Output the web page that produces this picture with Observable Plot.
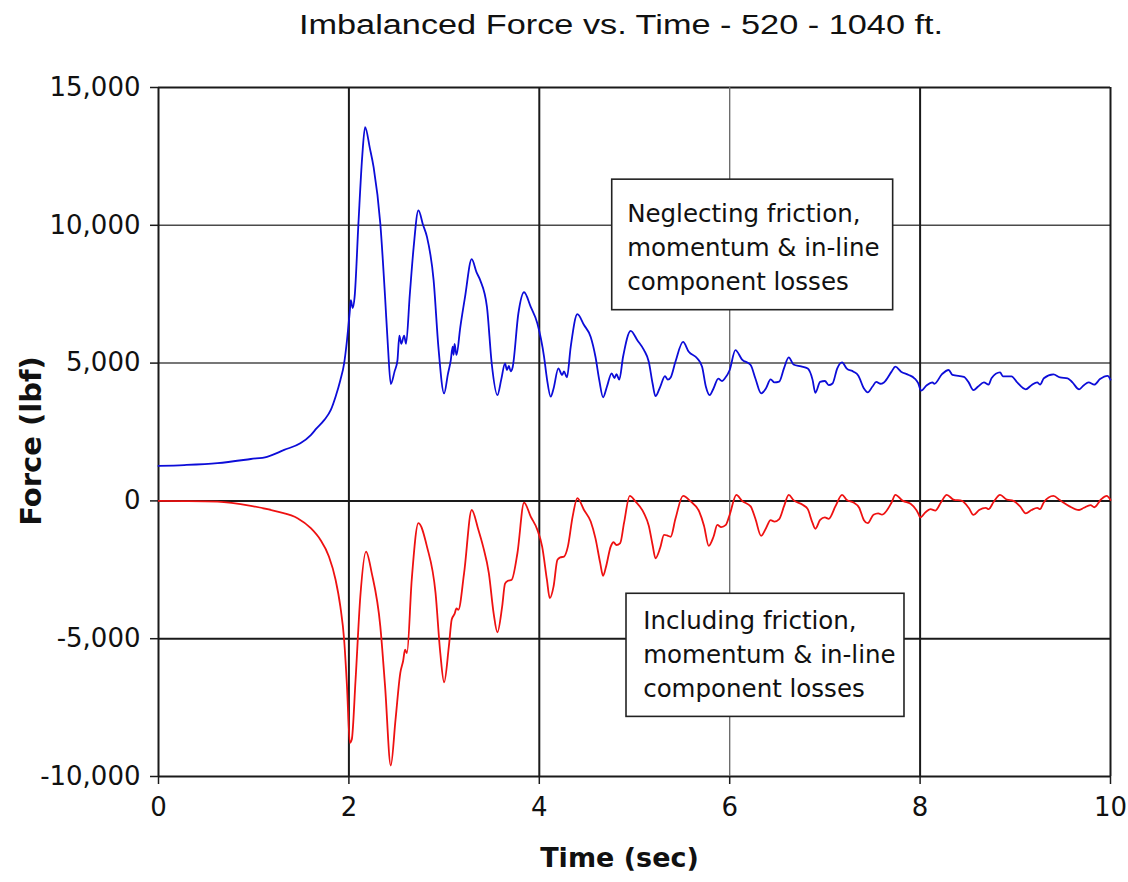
<!DOCTYPE html>
<html>
<head>
<meta charset="utf-8">
<script src="https://cdn.jsdelivr.net/npm/d3@7"></script>
<script src="https://cdn.jsdelivr.net/npm/@observablehq/plot@0.6"></script>
<style>
  html, body { margin: 0; padding: 0; background: #fff; }
  #title { position: relative; height: 60px; width: 1128px; font-family: "Liberation Sans", Arial, sans-serif; font-size: 27px; color: #111; }
  #title span { position: absolute; left: 621px; top: 9.5px; line-height: 31px; white-space: nowrap; transform: translateX(-50%) scaleX(1.27); }
  svg { display: block; }
</style>
</head>
<body>
<div id="title"><span>Imbalanced Force vs. Time - 520 - 1040 ft.</span></div>
<div id="chart"></div>
<script>
// ---- Data ----
const xTicks = [0, 2, 4, 6, 8, 10];
const xTickLabels = ["0", "2", "4", "6", "8", "10"];
const yTicks = [-10000, -5000, 0, 5000, 10000, 15000];
const yTickLabels = ["-10,000", "-5,000", "0", "5,000", "10,000", "15,000"];
const xLabel = "Time (sec)";
const yLabel = "Force (lbf)";

// Neglecting friction, momentum & in-line component losses (blue)
const blueT = [0.00,0.27,0.62,0.97,1.14,1.32,1.49,1.60,1.66,1.74,1.81,1.86,1.91,1.95,1.98,2.01,2.02,2.04,2.06,2.10,2.14,2.17,2.22,2.26,2.33,2.38,2.41,2.44,2.48,2.51,2.53,2.55,2.58,2.60,2.64,2.68,2.73,2.78,2.82,2.89,2.94,3.00,3.04,3.07,3.09,3.10,3.11,3.13,3.17,3.22,3.29,3.34,3.38,3.45,3.50,3.56,3.60,3.64,3.66,3.68,3.70,3.72,3.78,3.84,3.91,3.98,4.05,4.08,4.12,4.15,4.20,4.24,4.26,4.29,4.33,4.40,4.47,4.54,4.59,4.63,4.67,4.71,4.76,4.79,4.81,4.84,4.88,4.96,5.03,5.10,5.15,5.19,5.22,5.27,5.32,5.35,5.38,5.43,5.51,5.57,5.66,5.71,5.75,5.79,5.83,5.88,5.92,5.95,6.00,6.06,6.13,6.22,6.27,6.33,6.38,6.43,6.47,6.52,6.57,6.62,6.67,6.75,6.82,6.87,6.90,6.95,7.00,7.04,7.08,7.13,7.18,7.23,7.30,7.35,7.41,7.45,7.50,7.54,7.58,7.62,7.70,7.74,7.80,7.88,7.94,7.98,8.01,8.07,8.13,8.15,8.23,8.30,8.34,8.46,8.51,8.56,8.61,8.67,8.72,8.75,8.84,8.87,8.96,9.02,9.11,9.17,9.23,9.26,9.30,9.40,9.47,9.55,9.60,9.67,9.72,9.77,9.83,9.89,9.97,10.00];
const blueF = [1270,1300,1370,1520,1600,1850,2090,2390,2630,2930,3300,3780,4380,4990,5830,6900,7280,7000,7400,10060,12500,13560,12800,12100,10060,7400,5600,4240,4700,5100,6000,5700,6000,5700,7500,9200,10540,10000,9580,8000,5590,3900,4600,5100,5600,5300,5700,5300,6300,7400,8770,8300,8000,7040,4990,3840,4400,4990,4750,4900,4700,4850,6800,7570,7040,6440,5230,4440,3780,4080,4810,4570,4700,4480,5590,6775,6380,5950,5230,4380,3755,4140,4630,4460,4600,4400,5230,6170,5830,5470,5050,4260,3800,4140,4530,4400,4480,5050,5770,5410,5170,4870,4140,3840,4080,4440,4350,4450,4750,5470,5130,4930,4440,3900,4080,4410,4300,4330,4810,5210,4950,4880,4800,4400,3925,4320,4350,4200,4260,4810,5025,4800,4690,4550,4080,3940,4150,4320,4250,4300,4690,4870,4690,4570,4450,4270,4000,4200,4300,4250,4600,4750,4570,4500,4300,4020,4150,4300,4220,4450,4660,4520,4520,4300,4050,4200,4300,4220,4450,4590,4480,4450,4300,4050,4200,4300,4220,4420,4540,4400];

// Including friction, momentum & in-line component losses (red)
const redT = [0.00,0.27,0.62,0.97,1.25,1.46,1.60,1.70,1.79,1.86,1.91,1.95,1.98,2.01,2.03,2.07,2.12,2.18,2.24,2.33,2.38,2.44,2.49,2.54,2.57,2.59,2.61,2.66,2.73,2.82,2.91,2.96,3.00,3.05,3.08,3.11,3.13,3.15,3.21,3.29,3.36,3.41,3.47,3.52,3.56,3.61,3.64,3.67,3.71,3.77,3.84,3.91,3.98,4.03,4.08,4.11,4.15,4.19,4.22,4.26,4.30,4.35,4.40,4.47,4.54,4.59,4.64,4.67,4.70,4.75,4.78,4.81,4.85,4.89,4.95,5.01,5.10,5.15,5.19,5.22,5.27,5.31,5.34,5.38,5.43,5.51,5.59,5.68,5.73,5.78,5.83,5.87,5.91,5.96,6.00,6.07,6.13,6.22,6.27,6.33,6.38,6.43,6.47,6.52,6.57,6.62,6.67,6.77,6.82,6.87,6.90,6.95,7.00,7.04,7.11,7.18,7.23,7.30,7.36,7.41,7.45,7.51,7.56,7.60,7.70,7.74,7.82,7.90,7.98,8.00,8.06,8.11,8.16,8.22,8.28,8.35,8.44,8.51,8.56,8.62,8.69,8.72,8.77,8.84,8.91,8.98,9.05,9.11,9.17,9.23,9.26,9.30,9.40,9.47,9.50,9.57,9.67,9.72,9.79,9.83,9.90,9.96,10.00];
const redF = [0,-5,-25,-180,-390,-630,-990,-1410,-2020,-2860,-3830,-5040,-6730,-8780,-8660,-6490,-3470,-1840,-2620,-4550,-6730,-9600,-7930,-6240,-5800,-5400,-5520,-2860,-810,-1660,-3340,-5520,-6580,-5280,-4300,-4100,-3900,-3950,-2620,-330,-1050,-1660,-2620,-4070,-4770,-3830,-3000,-2900,-2860,-1900,-60,-570,-1050,-1660,-2860,-3530,-3100,-2140,-2050,-2020,-1660,-570,100,-330,-750,-1360,-2260,-2720,-2400,-1660,-1500,-1600,-1530,-800,180,-20,-450,-900,-1600,-2080,-1700,-1230,-1250,-1300,-650,180,-20,-390,-900,-1630,-1300,-870,-950,-870,-500,220,0,-200,-650,-1270,-1000,-700,-750,-660,-200,220,30,-150,-300,-800,-1010,-690,-600,-650,-200,220,30,-60,-250,-700,-810,-500,-450,-500,-60,220,0,-100,-450,-600,-400,-300,-350,-50,220,50,0,-250,-510,-330,-250,-300,-50,220,50,0,-200,-450,-330,-250,-300,-50,180,20,-50,-200,-330,-250,-150,-230,50,180,30];

// Annotation boxes (in data units)
const noteText = [
  "Neglecting friction,\nmomentum & in-line\ncomponent losses",
  "Including friction,\nmomentum & in-line\ncomponent losses"
];
const noteBoxT1 = [4.766, 4.916];
const noteBoxT2 = [7.717, 7.836];
const noteBoxF1 = [11656, -3370];
const noteBoxF2 = [6920, -7837];
const noteTextT = [4.923, 5.091];
const noteTextF = [9275, -5500];

// ---- Build tables ----
const blue = blueT.map((t, i) => ({t, F: blueF[i]}));
const red = redT.map((t, i) => ({t, F: redF[i]}));
const notes = noteText.map((text, i) => ({
  text, t1: noteBoxT1[i], t2: noteBoxT2[i], f1: noteBoxF1[i], f2: noteBoxF2[i], tt: noteTextT[i], ft: noteTextF[i]
}));

const chart = Plot.plot({
  width: 1128,
  height: 822,
  marginTop: 27,
  marginBottom: 106,
  marginLeft: 158,
  marginRight: 18,
  style: {fontFamily: "DejaVu Sans", fontSize: "26px", color: "#111", background: "#fff", overflow: "visible"},
  x: {domain: [0, 10]},
  y: {domain: [-10000, 15000]},
  marks: [
    // grid
    Plot.ruleY(yTicks.filter(d => d === 5000 || d === 10000), {stroke: "#4a4a4a", strokeWidth: 1.5}),
    Plot.ruleY(yTicks.filter(d => d !== 5000 && d !== 10000), {stroke: "#1a1a1a", strokeWidth: 2}),
    Plot.ruleX(xTicks.filter(d => d === 6), {stroke: "#666", strokeWidth: 1.3}),
    Plot.ruleX(xTicks.filter(d => d !== 6), {stroke: "#1a1a1a", strokeWidth: 2}),
    // annotation boxes
    Plot.rect(notes, {x1: "t1", x2: "t2", y1: "f1", y2: "f2", fill: "#fff", stroke: "#222", strokeWidth: 1.6}),
    Plot.text(notes, {x: "tt", y: "ft", text: "text", textAnchor: "start", lineAnchor: "middle", lineHeight: 1.39, fontSize: 24.5, fontFamily: "DejaVu Sans", fill: "#111"}),
    // series
    Plot.line(red, {x: "t", y: "F", curve: "monotone-x", stroke: "#ee1111", strokeWidth: 1.8}),
    Plot.line(blue, {x: "t", y: "F", curve: "monotone-x", stroke: "#0c0cd8", strokeWidth: 1.8}),
    // axes
    Plot.axisX(xTicks, {anchor: "bottom", tickSize: 8, tickPadding: 13, tickFormat: d => xTickLabels[xTicks.indexOf(d)], label: null, stroke: "#1a1a1a", strokeWidth: 1.5}),
    Plot.axisY(yTicks, {anchor: "left", tickSize: 8, tickPadding: 10, tickFormat: d => yTickLabels[yTicks.indexOf(d)], label: null, stroke: "#1a1a1a", strokeWidth: 1.5}),
    // axis labels
    Plot.text([xLabel], {frameAnchor: "bottom", textAnchor: "middle", lineAnchor: "top", dy: 71, dx: -15, fontWeight: "bold", fontSize: 27, fill: "#111"}),
    Plot.text([yLabel], {frameAnchor: "left", textAnchor: "middle", lineAnchor: "middle", rotate: -90, dx: -127, dy: 9, fontWeight: "bold", fontSize: 29, fill: "#111"})
  ]
});
document.getElementById("chart").appendChild(chart);
</script>
</body>
</html>
